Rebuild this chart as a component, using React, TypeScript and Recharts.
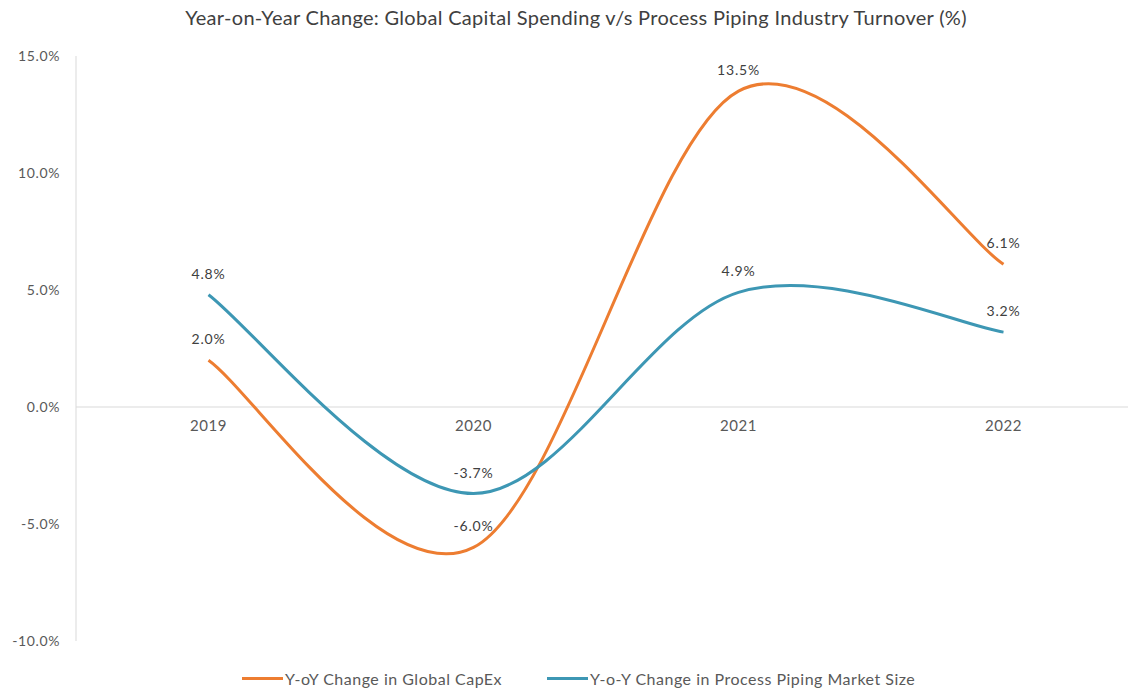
import React from 'react'
import {
  LineChart,
  Line,
  XAxis,
  YAxis,
  ReferenceLine,
  ReferenceDot,
  LabelList,
} from 'recharts'

const YEARS = ['2019', '2020', '2021', '2022']
const CAPEX = [2.0, -6.0, 13.5, 6.1]
const PIPING = [4.8, -3.7, 4.9, 3.2]
const Y_TICKS = [-10, -5, 0, 5, 10, 15]

const SERIES = [
  { key: 'capex', name: 'Y-oY Change in Global CapEx', color: '#ED7D31' },
  { key: 'piping', name: 'Y-o-Y Change in Process Piping Market Size', color: '#3D97B4' },
]

const chartData = YEARS.map((year, i) => ({
  year,
  capex: CAPEX[i],
  piping: PIPING[i],
}))

const FONT = 'Lato, "Open Sans", sans-serif'
const TEXT = '#404040'

// Excel style smoothed line (Catmull-Rom bezier through the points)
function excelCurve(context: any) {
  let pts: number[][] = []
  return {
    areaStart() {},
    areaEnd() {},
    lineStart() {
      pts = []
    },
    point(x: number, y: number) {
      pts.push([+x, +y])
    },
    lineEnd() {
      if (!pts.length) return
      context.moveTo(pts[0][0], pts[0][1])
      for (let i = 0; i < pts.length - 1; i++) {
        const p0 = pts[i - 1] || pts[i]
        const p1 = pts[i]
        const p2 = pts[i + 1]
        const p3 = pts[i + 2] || p2
        context.bezierCurveTo(
          p1[0] + (p2[0] - p0[0]) / 6,
          p1[1] + (p2[1] - p0[1]) / 6,
          p2[0] - (p3[0] - p1[0]) / 6,
          p2[1] - (p3[1] - p1[1]) / 6,
          p2[0],
          p2[1]
        )
      }
    },
  }
}

const pct = (v: number) => `${v.toFixed(1)}%`

export default function App() {
  return (
    <div
      style={{
        position: 'absolute',
        left: 0,
        top: 0,
        width: 1128,
        height: 693,
        overflow: 'hidden',
        background: '#fff',
        fontFamily: FONT,
      }}
    >
      <div
        style={{
          position: 'absolute',
          top: 5,
          left: 0,
          width: 1152,
          textAlign: 'center',
          fontSize: 20,
          letterSpacing: 0.3,
          color: TEXT,
        }}
      >
        Year-on-Year Change: Global Capital Spending v/s Process Piping Industry Turnover (%)
      </div>

      <LineChart
        width={1136}
        height={693}
        data={chartData}
        margin={{ top: 56, right: 0, bottom: 52, left: 0 }}
      >
        <XAxis dataKey="year" scale="band" hide />
        <YAxis
          width={76}
          domain={[-10, 15]}
          ticks={Y_TICKS}
          tickFormatter={pct}
          axisLine={{ stroke: '#d9d9d9' }}
          tickLine={false}
          tickSize={0}
          tickMargin={16}
          tick={{ fontSize: 14, fill: '#595959', fontFamily: FONT, letterSpacing: 0.6 }}
        />
        <ReferenceLine y={0} stroke="#d9d9d9" strokeWidth={1} />
        {YEARS.map(year => (
          <ReferenceDot
            key={year}
            x={year}
            y={0}
            r={1}
            fill="none"
            stroke="none"
            label={{
              value: year,
              position: 'bottom',
              offset: 12,
              fontSize: 15,
              fill: '#595959',
              fontFamily: FONT,
              letterSpacing: 0.6,
            }}
          />
        ))}
        {SERIES.map(s => (
          <Line
            key={s.key}
            dataKey={s.key}
            name={s.name}
            type={excelCurve as any}
            stroke={s.color}
            strokeWidth={3}
            dot={false}
            activeDot={false}
            isAnimationActive={false}
          >
            <LabelList
              dataKey={s.key}
              position="top"
              offset={16}
              formatter={(v: any) => pct(Number(v))}
              style={{ fontSize: 14, fill: TEXT, fontFamily: FONT, letterSpacing: 0.8 }}
            />
          </Line>
        ))}
      </LineChart>

      <div
        style={{
          position: 'absolute',
          top: 669,
          left: 242,
          display: 'flex',
          alignItems: 'center',
          fontSize: 16,
          letterSpacing: 0.5,
          color: '#595959',
        }}
      >
        {SERIES.map((s, i) => (
          <div
            key={s.key}
            style={{ display: 'flex', alignItems: 'center', marginRight: i === 0 ? 45 : 0 }}
          >
            <span
              style={{
                display: 'inline-block',
                width: 41,
                height: 3,
                background: s.color,
                marginRight: 2,
              }}
            />
            <span>{s.name}</span>
          </div>
        ))}
      </div>
    </div>
  )
}
